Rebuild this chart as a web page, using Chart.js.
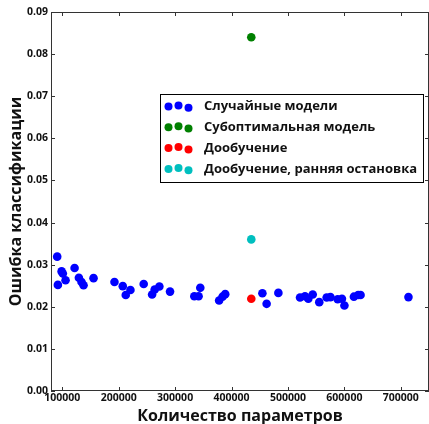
<!DOCTYPE html>
<html>
<head>
<meta charset="utf-8">
<script src="https://cdn.jsdelivr.net/npm/chart.js@4/dist/chart.umd.min.js"></script>
<style>
    body { margin: 0; background: #fff; overflow: hidden; }
    canvas { display: block; }
</style>
</head>
<body>
<canvas id="errorChart" width="429" height="424"></canvas>
<script>
// Random models: parameter count / classification error
const randomParams = [91000, 98800, 101000, 92200, 105800, 121800, 129400, 134100, 137700, 155400,
    192500, 207200, 212500, 220800, 244300, 259200, 263800, 272100, 291000, 334000,
    341600, 344600, 378000, 384000, 388800, 454700, 462200, 483000, 521400, 530200,
    536100, 543900, 555500, 568600, 575300, 588100, 595700, 600100, 616900, 624500,
    628700, 713600];
const randomError = [0.0319, 0.0284, 0.0279, 0.0252, 0.0263, 0.0292, 0.0269, 0.0259, 0.0251, 0.0268,
    0.0259, 0.0249, 0.0228, 0.0240, 0.0254, 0.0229, 0.0241, 0.0248, 0.0236, 0.0225,
    0.0225, 0.0245, 0.0215, 0.0224, 0.0230, 0.0232, 0.0207, 0.0233, 0.0222, 0.0225,
    0.0219, 0.0229, 0.0211, 0.0222, 0.0223, 0.0218, 0.0219, 0.0203, 0.0224, 0.0228,
    0.0228, 0.0223];

const suboptParams = [435000];
const suboptError = [0.084];
const finetuneParams = [435000];
const finetuneError = [0.0219];
const earlyStopParams = [435000];
const earlyStopError = [0.036];

const seriesLabels = ['Случайные модели', 'Субоптимальная модель', 'Дообучение', 'Дообучение, ранняя остановка'];
const seriesColors = ['#0000ff', '#008000', '#ff0000', '#00bfbf'];

const xTickValues = [100000, 200000, 300000, 400000, 500000, 600000, 700000];
const yTickValues = [0, 0.01, 0.02, 0.03, 0.04, 0.05, 0.06, 0.07, 0.08, 0.09];

const FONT = "'Open Sans', 'DejaVu Sans', sans-serif";
const AXIS_COLOR = '#333';

function toPoints(xs, ys) {
    return xs.map((x, i) => ({ x: x, y: ys[i] }));
}

// Frame + inward tick marks, matplotlib style
const framePlugin = {
    id: 'frame',
    afterDatasetsDraw(chart) {
        const { ctx, chartArea: a, scales } = chart;
        ctx.save();
        ctx.strokeStyle = AXIS_COLOR;
        ctx.lineWidth = 1;
        ctx.strokeRect(a.left + 0.5, a.top + 0.5, a.right - a.left - 1, a.bottom - a.top - 1);
        ctx.beginPath();
        scales.x.ticks.forEach(t => {
            const px = Math.round(scales.x.getPixelForValue(t.value)) + 0.5;
            ctx.moveTo(px, a.bottom); ctx.lineTo(px, a.bottom - 4);
            ctx.moveTo(px, a.top); ctx.lineTo(px, a.top + 4);
        });
        scales.y.ticks.forEach(t => {
            const py = Math.round(scales.y.getPixelForValue(t.value)) + 0.5;
            ctx.moveTo(a.left, py); ctx.lineTo(a.left + 4, py);
            ctx.moveTo(a.right, py); ctx.lineTo(a.right - 4, py);
        });
        ctx.stroke();
        ctx.restore();
    }
};

// Legend with three dots per entry, placed inside the axes
const dotLegendPlugin = {
    id: 'dotLegend',
    afterDraw(chart, args, opts) {
        const { ctx } = chart;
        const box = opts.box;
        ctx.save();
        ctx.fillStyle = '#fff';
        ctx.fillRect(box.x, box.y, box.w, box.h);
        ctx.strokeStyle = '#000';
        ctx.lineWidth = 1;
        ctx.strokeRect(box.x + 0.5, box.y + 0.5, box.w, box.h);
        ctx.font = 'bold 13px ' + FONT;
        ctx.textBaseline = 'middle';
        chart.data.datasets.forEach((ds, i) => {
            const y = box.y + opts.firstRow + i * opts.rowStep;
            ctx.fillStyle = ds.backgroundColor;
            opts.dotX.forEach((dx, k) => {
                ctx.beginPath();
                ctx.arc(box.x + dx, y + opts.dotDy[k], 4, 0, Math.PI * 2);
                ctx.fill();
            });
            ctx.fillStyle = '#111';
            ctx.fillText(ds.label, box.x + opts.textX, y);
        });
        ctx.restore();
    }
};

const datasets = [
    toPoints(randomParams, randomError),
    toPoints(suboptParams, suboptError),
    toPoints(finetuneParams, finetuneError),
    toPoints(earlyStopParams, earlyStopError)
].map((pts, i) => ({
    label: seriesLabels[i],
    data: pts,
    backgroundColor: seriesColors[i],
    borderWidth: 0,
    pointRadius: 4.3,
    pointHoverRadius: 4.3,
    order: 3 - i
}));

const chart = new Chart(document.getElementById('errorChart'), {
    type: 'scatter',
    data: { datasets: datasets },
    options: {
        responsive: false,
        animation: false,
        layout: { autoPadding: false, padding: { top: 12, right: -1, left: 0, bottom: 0 } },
        plugins: {
            legend: { display: false },
            tooltip: { enabled: false },
            dotLegend: {
                box: { x: 160, y: 94, w: 263, h: 88 },
                firstRow: 12.5,
                rowStep: 20.8,
                dotX: [8.5, 18.5, 28.5],
                dotDy: [0, -1, 1.3],
                textX: 44
            }
        },
        scales: {
            x: {
                type: 'linear',
                min: 80000,
                max: 750000,
                afterBuildTicks: s => { s.ticks = xTickValues.map(v => ({ value: v })); },
                afterFit: s => { s.height = 33; },
                grid: { display: false, drawTicks: false },
                border: { display: false },
                ticks: {
                    padding: 1,
                    color: '#111',
                    font: { family: FONT, size: 10.5, weight: 'bold' },
                    maxRotation: 0,
                    callback: v => String(v)
                },
                title: {
                    display: true,
                    text: 'Количество параметров',
                    color: '#111',
                    padding: 0,
                    font: { family: FONT, size: 16, weight: 'bold', lineHeight: 1 }
                }
            },
            y: {
                type: 'linear',
                min: 0,
                max: 0.09,
                afterBuildTicks: s => { s.ticks = yTickValues.map(v => ({ value: v })); },
                afterFit: s => { s.width = 51; },
                grid: { display: false, drawTicks: false },
                border: { display: false },
                ticks: {
                    padding: 3,
                    color: '#111',
                    font: { family: FONT, size: 10.5, weight: 'bold' },
                    callback: v => v.toFixed(2)
                },
                title: {
                    display: true,
                    text: 'Ошибка классификации',
                    color: '#111',
                    padding: { top: 8, bottom: 0 },
                    font: { family: FONT, size: 16, weight: 'bold', lineHeight: 1 }
                }
            }
        }
    },
    plugins: [framePlugin, dotLegendPlugin]
});
</script>
</body>
</html>
